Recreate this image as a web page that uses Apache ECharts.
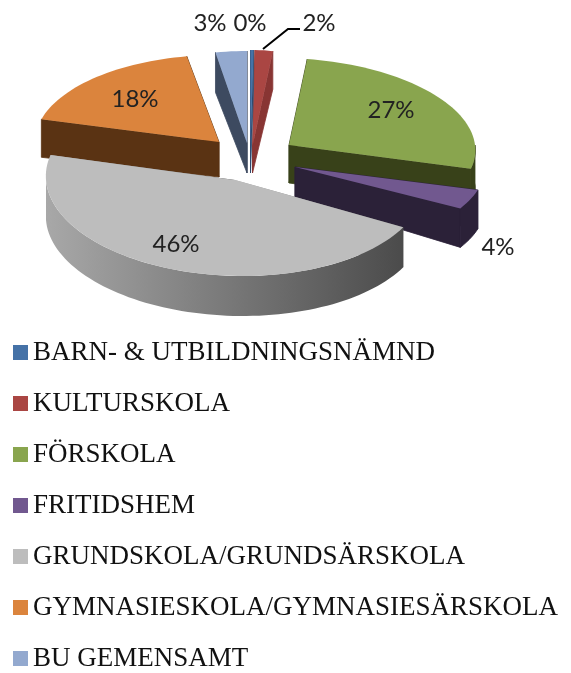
<!DOCTYPE html>
<html>
<head>
<meta charset="utf-8">
<style>html,body{margin:0;padding:0;background:#fff}#c{width:571px;height:673px}</style>
<script src="https://cdn.jsdelivr.net/npm/echarts@6/dist/echarts.min.js"></script>
</head>
<body>
<div id="c"></div>
<script>
const categories = ['BARN- & UTBILDNINGSNÄMND','KULTURSKOLA','FÖRSKOLA','FRITIDSHEM','GRUNDSKOLA/GRUNDSÄRSKOLA','GYMNASIESKOLA/GYMNASIESÄRSKOLA','BU GEMENSAMT'];
const shares = [0.3, 2.2, 26.9, 3.8, 46, 18, 2.8];
const faceColors = ['#4572a7','#aa4643','#89a54e','#71588f','#bdbdbd','#db843d','#93a9cf'];
const wallColors = ['#2f4a6e','#883533','#384119','#2b2138',null,'#5a3313','#3d4a60'];
const grayWall = {type:'linear',x:0,y:0,x2:1,y2:0,colorStops:[{offset:0,color:'#a8a8a8'},{offset:1,color:'#4b4b4b'}]};
// exploded-view frame of each slice: apex, radii, shear, wall depths
const frames = [
  {x:250.5,y:146,rx:160,ry:96,k:0,d:27,D:38},
  {x:252.5,y:146,rx:130,ry:96,k:0,d:27,D:38},
  {x:289,y:145,rx:186,ry:87,k:.126,d:38,D:38},
  {x:295,y:167,rx:190,ry:84,k:0,d:30,D:39},
  {x:235,y:180,rx:189,ry:96,k:.08,d:38,D:40},
  {x:219,y:142,rx:184,ry:87,k:0,d:35,D:38},
  {x:247,y:143,rx:180,ry:92,k:0,d:30,D:40}
];
const labelPos = [[250,23],[319,23],[391,110],[498,247],[176,244],[135,99],[210,23]];
const drawOrder = [1,0,6,5,2,3,4];
const leader = [[263,49],[288,29],[300,29]];
const total = shares.reduce((a,b)=>a+b,0);

function makeRender(i){
  return function(){
    const f = frames[i];
    const start = shares.slice(0,i).reduce((a,b)=>a+b,0)/total*360;
    const end = start + shares[i]/total*360;
    const pt = (deg)=>{const t=deg*Math.PI/180;return [f.x+f.rx*Math.sin(t)-f.k*f.ry*Math.cos(t), f.y-f.ry*Math.cos(t)];};
    const arc = [];
    const n = Math.max(2,Math.ceil((end-start)/2));
    for(let j=0;j<=n;j++) arc.push(pt(start+(end-start)*j/n));
    const solid = wallColors[i];
    const wall = solid || grayWall;
    const down = (p,h)=>[p[0],p[1]+h];
    const apex = [f.x,f.y];
    const kids = [];
    const poly = (points,fill,stroke)=>kids.push({type:'polygon',shape:{points},style:{fill,stroke:stroke||null,lineWidth:stroke?.8:0},silent:true});
    [pt(start),pt(end)].forEach(c=>poly([apex,c,down(c,f.D),down(apex,f.d)],wall,solid));
    const fa = Math.max(start,90), fb = Math.min(end,270);
    if(fb>fa){
      const top=[];
      const m=Math.max(2,Math.ceil((fb-fa)/2));
      for(let j=0;j<=m;j++) top.push(pt(fa+(fb-fa)*j/m));
      poly(top.concat(top.slice().reverse().map(p=>down(p,f.D))),wall,solid);
    }
    poly([apex].concat(arc),faceColors[i]);
    kids.push({type:'text',x:labelPos[i][0],y:labelPos[i][1],style:{text:Math.round(shares[i]/total*100)+'%',x:0,y:0,align:'center',verticalAlign:'middle',fill:'#222',font:'24px Lato'},silent:true});
    if(i===1) kids.push({type:'polyline',shape:{points:leader},style:{stroke:'#000',lineWidth:2,fill:null},silent:true});
    return {type:'group',children:kids};
  };
}

const chart = echarts.init(document.getElementById('c'),null,{renderer:'canvas'});
chart.setOption({
  animation:false,
  backgroundColor:'#fff',
  legend:{
    orient:'vertical',left:13,top:339,height:334,data:categories,icon:'rect',itemWidth:15,itemHeight:15,itemGap:24,selectedMode:false,padding:0,
    textStyle:{fontFamily:'Liberation Serif',fontSize:27,color:'#111'}
  },
  series:categories.map((name,i)=>({
    type:'custom',name,coordinateSystem:'none',z:2+drawOrder.indexOf(i),
    data:[[shares[i]]],itemStyle:{color:faceColors[i]},renderItem:makeRender(i),silent:true
  }))
});
</script>
</body>
</html>
